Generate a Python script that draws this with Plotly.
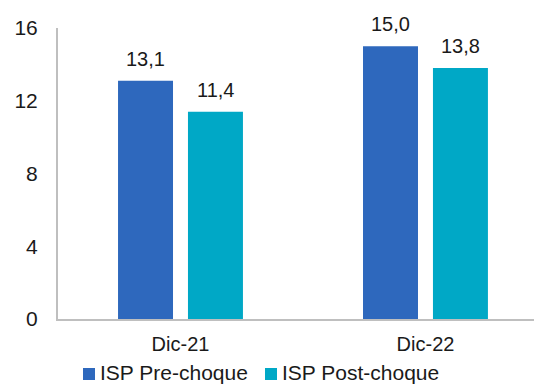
import plotly.graph_objects as go

categories = ["Dic-21", "Dic-22"]
pre_choque = [13.1, 15.0]
post_choque = [11.4, 13.8]
series_names = ["ISP Pre-choque", "ISP Post-choque"]
y_ticks = [0, 4, 8, 12, 16]

BLUE = "#2E68BD"
TEAL = "#00A8C6"
FONT = "Liberation Sans, Arial, sans-serif"
TEXT = "#1a1a1a"

W, H = 534, 385
ML, MR, MT, MB = 58, 0, 28, 66
PW, PH = W - ML - MR, H - MT - MB
BARGAP = 0.429


def fmt(v):
    return f"{v:.1f}".replace(".", ",")


def px_x(px):
    return (px - ML) / PW


def px_y(py):
    return (H - MB - py) / PH


fig = go.Figure()
fig.add_trace(go.Bar(x=categories, y=pre_choque, name=series_names[0],
                     marker=dict(color=BLUE, line=dict(width=0))))
fig.add_trace(go.Bar(x=categories, y=post_choque, name=series_names[1],
                     marker=dict(color=TEAL, line=dict(width=0))))

# value labels above each bar
half_slot = (1 - BARGAP) / 4
for i, cat in enumerate(categories):
    for val, off in ((pre_choque[i], -half_slot), (post_choque[i], half_slot)):
        fig.add_annotation(x=i + off, y=val, text=fmt(val), showarrow=False,
                           xref="x", yref="y", yanchor="bottom", yshift=9,
                           font=dict(size=20, color=TEXT, family=FONT))

# legend row below the axis
for name, color, sx in ((series_names[0], BLUE, 83), (series_names[1], TEAL, 265)):
    fig.add_shape(type="rect", xref="paper", yref="paper",
                  x0=px_x(sx), x1=px_x(sx + 12), y0=px_y(380), y1=px_y(368),
                  fillcolor=color, line=dict(width=0))
    fig.add_annotation(xref="paper", yref="paper", x=px_x(sx + 15), y=px_y(372),
                       xanchor="left", yanchor="middle", text=name, showarrow=False,
                       font=dict(size=21, color=TEXT, family=FONT))

fig.update_layout(
    width=W, height=H,
    margin=dict(l=ML, r=MR, t=MT, b=MB, autoexpand=False),
    paper_bgcolor="white", plot_bgcolor="white",
    barmode="group", bargap=BARGAP, bargroupgap=0.214,
    font=dict(family=FONT, color=TEXT),
    showlegend=False,
    xaxis=dict(range=[-0.5, 1.443], showline=True, linecolor="#BFBFBF", linewidth=2,
               showgrid=False, ticks="", tickfont=dict(size=20, family=FONT),
               ticklabelstandoff=6, fixedrange=True),
    yaxis=dict(range=[0, 16], tickvals=y_ticks, showline=True, linecolor="#BFBFBF",
               linewidth=2, showgrid=False, zeroline=False, ticks="",
               ticklabelstandoff=14, tickfont=dict(size=21, family=FONT),
               fixedrange=True),
)

fig.write_html("out.html")
